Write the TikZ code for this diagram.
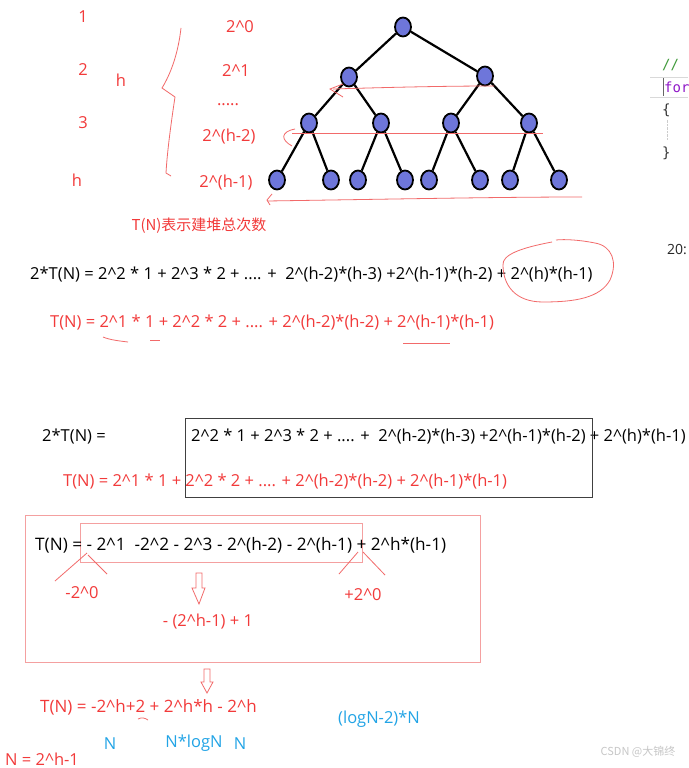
\documentclass[tikz,border=0pt]{standalone}
\usepackage{fontspec}
\setmainfont{Open Sans}
\newfontfamily\cjkfont{Noto Sans CJK SC}
\newfontfamily\codefont{DejaVu Sans Mono}
\usetikzlibrary{shapes.geometric}
\definecolor{inkred}{HTML}{F23A3A}
\definecolor{penred}{HTML}{F26A6A}
\definecolor{boxpink}{HTML}{F4A0A0}
\definecolor{heapblue}{HTML}{6E76DA}
\definecolor{inkblue}{HTML}{22A4E6}
\definecolor{codegreen}{HTML}{3F9A3A}
\definecolor{codepurple}{HTML}{9018C8}
\tikzset{
  lbl/.style={inner sep=0pt, anchor=west, font=\fontsize{16.5}{19}\selectfont},
  redlbl/.style={lbl, text=inkred},
  bluelbl/.style={lbl, text=inkblue},
  heapnode/.style={ellipse, draw=black, line width=1.8pt, fill=heapblue,
    minimum width=16pt, minimum height=19pt, inner sep=0pt},
  pen/.style={penred, line width=0.8pt},
  codetxt/.style={inner sep=0pt, anchor=west, font=\codefont\fontsize{14}{17}\selectfont}
}
\begin{document}
\begin{tikzpicture}[x=1pt,y=-1pt]
  \useasboundingbox[fill=white] (0,0) rectangle (688,768);
  % Level numbers and height
  \node[redlbl, anchor=center] (n1) at (83,17) {1};
  \node[redlbl, anchor=center] (n2) at (83,70) {2};
  \node[redlbl, anchor=center] (n3) at (83,123) {3};
  \node[redlbl, anchor=center] (nh) at (77,180) {h};
  \node[redlbl, anchor=center] (hgt) at (121,80) {h};
  % Hand drawn brace
  \draw[pen] (181,28) .. controls (178,55) and (170,75) .. (162,88) -- (175,97)
    .. controls (170,130) and (167,155) .. (166,173) -- (171,176);
  % Nodes per level
  \node[redlbl, anchor=center] (p0) at (240,27) {2\^{}0};
  \node[redlbl, anchor=center] (p1) at (236,71) {2\^{}1};
  \node[redlbl, anchor=base] (pdots) at (228,105) {.....};
  \node[redlbl, anchor=center] (ph2) at (229,137) {2\^{}(h-2)};
  \node[redlbl, anchor=center] (ph1) at (226,183) {2\^{}(h-1)};
  \node[redlbl, anchor=center, font=\cjkfont\fontsize{15}{18}\selectfont] (cap) at (199,226) {T(N)表示建堆总次数};
  % Heap tree
  \node[heapnode] (r) at (403,27) {};
  \node[heapnode] (a) at (349,77) {};
  \node[heapnode] (b) at (485,76) {};
  \node[heapnode] (aa) at (309,123) {};
  \node[heapnode] (ab) at (381,123) {};
  \node[heapnode] (ba) at (451,123) {};
  \node[heapnode] (bb) at (529,123) {};
  \node[heapnode] (aaa) at (277,180) {};
  \node[heapnode] (aab) at (331,180) {};
  \node[heapnode] (aba) at (358,180) {};
  \node[heapnode] (abb) at (405,180) {};
  \node[heapnode] (baa) at (429,180) {};
  \node[heapnode] (bab) at (480,180) {};
  \node[heapnode] (bba) at (510,180) {};
  \node[heapnode] (bbb) at (559,180) {};
  \draw[line width=2.2pt] (r) -- (a) (r) -- (b)
    (a) -- (aa) (a) -- (ab) (b) -- (ba) (b) -- (bb)
    (aa) -- (aaa) (aa) -- (aab) (ab) -- (aba) (ab) -- (abb)
    (ba) -- (baa) (ba) -- (bab) (bb) -- (bba) (bb) -- (bbb);
  % Red strokes across the levels
  \draw[pen] (343,84) -- (330,89) -- (343,97);
  \draw[pen] (333,89) .. controls (400,87) and (450,86) .. (494,86);
  \draw[pen] (295,129) .. controls (280,132) and (281,140) .. (292,146);
  \draw[pen] (292,133) -- (543,133);
  \draw[pen] (272,194) -- (267,200) -- (270,205);
  \draw[pen] (267,201) .. controls (400,199) and (500,197) .. (582,197);
  % Code snippet at the edge
  \draw[black!15] (650,77) -- (688,77) (650,97) -- (688,97);
  \draw[black!60, line width=0.8pt] (663,78) -- (663,96);
  \node[codetxt, text=codegreen] (cmt) at (662,65) {//};
  \node[codetxt, text=codepurple] (kw) at (664,87) {for};
  \node[codetxt, text=black!80] (lb) at (662,110) {\{};
  \node[codetxt, text=black!80] (rb) at (662,153) {\}};
  \draw[black!20, densely dotted] (lb.south) ++(1,3) -- ++(0,20);
  \node[lbl, text=black!85, font=\fontsize{14}{16}\selectfont] (ln) at (667,250) {20:};
  % First pair of sums
  \node[lbl] (eqA) at (30,275) {2*T(N) = 2\^{}2 * 1 + 2\^{}3 * 2 + .... +\ \ 2\^{}(h-2)*(h-3) +2\^{}(h-1)*(h-2) + 2\^{}(h)*(h-1)};
  \draw[pen] (552,242) .. controls (520,248) and (502,255) .. (503,265)
    .. controls (503,285) and (515,302) .. (543,302)
    .. controls (575,302) and (600,298) .. (610,280)
    .. controls (618,262) and (612,246) .. (595,243)
    .. controls (580,240) and (565,239) .. (556,240);
  \node[redlbl] (eqB) at (50,323) {T(N) = 2\^{}1 * 1 + 2\^{}2 * 2 + .... + 2\^{}(h-2)*(h-2) + 2\^{}(h-1)*(h-1)};
  \draw[pen] (103,337) .. controls (110,340) and (120,341) .. (128,342);
  \draw[pen] (150,340) -- (160,340);
  \draw[pen] (403,343) -- (450,343);
  % Shifted sums
  \node[lbl] (eqC) at (42,437) {2*T(N) =};
  \node[lbl] (eqD) at (191,437) {2\^{}2 * 1 + 2\^{}3 * 2 + .... +\ \ 2\^{}(h-2)*(h-3) +2\^{}(h-1)*(h-2)\ + 2\^{}(h)*(h-1)};
  \node[redlbl] (eqE) at (63,482) {T(N) = 2\^{}1 * 1 + 2\^{}2 * 2 + .... + 2\^{}(h-2)*(h-2) + 2\^{}(h-1)*(h-1)};
  \draw[black!75, line width=0.8pt] (185,418) rectangle (592,497);
  % Difference
  \draw[boxpink, line width=1pt] (25,515) rectangle (480,662);
  \draw[boxpink, line width=1pt] (80,523) rectangle (362,562);
  \node[lbl, font=\fontsize{17.2}{20}\selectfont] (eqF) at (35,545) {T(N) = - 2\^{}1\ \ -2\^{}2 - 2\^{}3 - 2\^{}(h-2) - 2\^{}(h-1) + 2\^{}h*(h-1)};
  \draw[pen] (55,581) -- (87,553);
  \draw[pen] (88,555) -- (107,574);
  \draw[pen] (339,574) -- (358,552);
  \draw[pen] (363,552) -- (385,575);
  \node[redlbl, anchor=center] (lo) at (82,593) {-2\^{}0};
  \node[redlbl, anchor=center] (hi) at (363,595) {+2\^{}0};
  \draw[pen] (196,573) -- (202,573) -- (202,588) -- (205,588) -- (199,604)
    -- (192,588) -- (196,588) -- cycle;
  \node[redlbl, anchor=center] (geo) at (208,622) {- (2\^{}h-1) + 1};
  % Result
  \draw[pen] (204,669) -- (210,669) -- (210,682) -- (213,682) -- (207,693)
    -- (201,682) -- (204,682) -- cycle;
  \node[redlbl, font=\fontsize{17}{20}\selectfont] (eqG) at (40,707) {T(N) = -2\^{}h+2 + 2\^{}h*h - 2\^{}h};
  \draw[pen] (138,719) .. controls (142,717) and (145,718) .. (148,720);
  \node[bluelbl] (big) at (338,719) {(logN-2)*N};
  \node[bluelbl, anchor=center] (t1) at (110,744) {N};
  \node[bluelbl, anchor=center] (t2) at (194,743) {N*logN};
  \node[bluelbl, anchor=center] (t3) at (240,744) {N};
  \node[redlbl] (nval) at (5,759) {N = 2\^{}h-1};
  \node[inner sep=0pt, anchor=center, text=black!22, font=\cjkfont\fontsize{11}{13}\selectfont] (wm) at (638,752) {CSDN @大锦终};
\end{tikzpicture}
\end{document}
